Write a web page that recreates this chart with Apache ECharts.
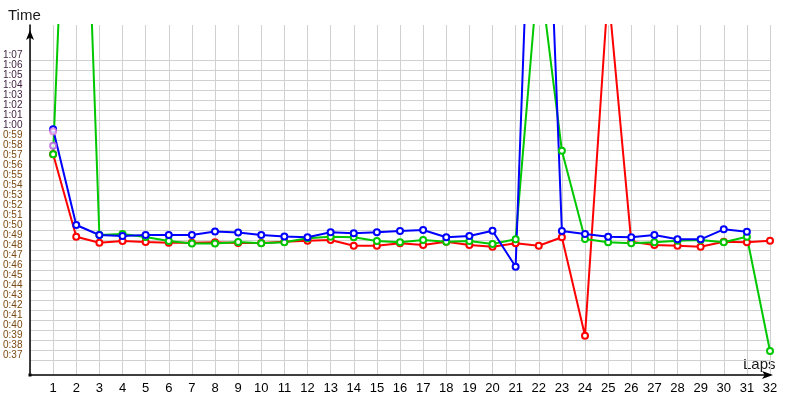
<!DOCTYPE html>
<html>
<head>
<meta charset="utf-8">
<script src="https://cdn.jsdelivr.net/npm/echarts@6/dist/echarts.min.js"></script>
<style>html,body{margin:0;padding:0;background:#fff}#c{width:800px;height:400px}</style>
</head>
<body>
<div id="c"></div>
<script>
// Lap numbers
const laps = [1,2,3,4,5,6,7,8,9,10,11,12,13,14,15,16,17,18,19,20,21,22,23,24,25,26,27,28,29,30,31,32];
// Lap times in seconds
const redTimes = [57.57,49.33,48.73,48.9,48.8,48.73,48.73,48.77,48.7,48.7,48.83,48.93,49.0,48.43,48.43,48.67,48.5,48.83,48.5,48.33,48.67,48.43,49.27,39.43,74.0,48.83,48.5,48.43,48.33,48.83,48.77,48.93];
const greenTimes = [57.57,115.0,49.5,49.6,49.3,48.9,48.65,48.65,48.8,48.67,48.77,49.17,49.33,49.27,48.9,48.77,49.0,48.83,48.9,48.6,49.07,76.5,57.93,49.1,48.77,48.67,48.77,48.93,49.0,48.77,49.33,37.9];
const blueTimes = [60.07,50.5,49.5,49.4,49.5,49.5,49.5,49.85,49.75,49.5,49.35,49.27,49.77,49.67,49.77,49.9,50.0,49.27,49.4,49.93,46.33,110.0,49.9,49.6,49.33,49.27,49.5,49.07,49.07,50.07,49.83];
// extra single lap-1 marks
const extraPinkLap1 = [[1, 59.85]];
const extraVioletLap1 = [[1, 58.43]];
// Y tick range (seconds)
const yTickMin = 37, yTickMax = 67;

function pair(xs, ys){ return ys.map((v,i)=>[xs[i], v]); }
function fmt(v){ const m = Math.floor(v/60), s = Math.round(v - m*60); return m + ':' + (s<10?'0':'') + s; }

const chart = echarts.init(document.getElementById('c'), null, {renderer:'canvas'});
const lineSeries = (name, data, color) => ({
  name, type:'line', xAxisIndex:0, yAxisIndex:0, data, color,
  symbol:'emptyCircle', symbolSize:6, showAllSymbol:true,
  lineStyle:{width:2, color}, itemStyle:{color, borderColor:color, borderWidth:1.2},
  animation:false, clip:true, z:3
});
chart.setOption({
  animation:false,
  backgroundColor:'#fff',
  grid:[
    {left:30, right:30, top:25, bottom:25},
    {left:30, right:30, top:60, height:300}
  ],
  xAxis:[
    {type:'value', gridIndex:0, min:0, max:32, interval:1,
     axisLine:{show:true, lineStyle:{color:'#000', width:1.5}, symbol:['none','arrow'], symbolSize:[6,11], symbolOffset:[0,3]},
     axisTick:{show:false},
     axisLabel:{margin:7, color:'#000', fontSize:13, fontFamily:'Liberation Sans', formatter:v=> v===0?'':String(v)},
     splitLine:{show:true, lineStyle:{color:'#d0d0d0', width:1}}
    },
    {type:'value', gridIndex:1, min:0, max:32, show:false}
  ],
  yAxis:[
    {type:'value', gridIndex:0, min:35.5, max:70.5,
     axisLine:{show:true, lineStyle:{color:'#000', width:1.5}, symbol:['none','arrow'], symbolSize:[6,10], symbolOffset:[0,-5]},
     axisTick:{show:false}, axisLabel:{show:false}, splitLine:{show:false}, z:5},
    {type:'value', gridIndex:1, min:yTickMin, max:yTickMax, interval:1,
     axisLine:{show:false}, axisTick:{show:false},
     axisLabel:{margin:8, fontSize:10, fontFamily:'Liberation Sans', verticalAlign:'bottom',
       formatter:v=> fmt(v),
       color:v=> (v>=60 ? '#3c1e3c' : '#7a4a14')},
     splitLine:{show:true, lineStyle:{color:'#d0d0d0', width:1}}}
  ],
  graphic:[
    {type:'text', left:8, top:8, style:{text:'Time', font:'15px "Liberation Sans"', fill:'#1a1a1a'}},
    {type:'text', left:743, top:357, style:{text:'Laps', font:'15px "Liberation Sans"', fill:'#1a1a1a'}},
    {type:'rect', left:28.5, top:373.5, shape:{width:3, height:3}, style:{fill:'#000'}}
  ],
  series:[
    lineSeries('Red', pair(laps, redTimes), '#ff0000'),
    lineSeries('Green', pair(laps, greenTimes), '#00c800'),
    {type:'scatter', xAxisIndex:0, yAxisIndex:0, data:extraVioletLap1, symbol:'emptyCircle', symbolSize:6,
     itemStyle:{color:'#b45ae0', borderColor:'#b45ae0', borderWidth:1.2}, z:3},
    {type:'scatter', xAxisIndex:0, yAxisIndex:0, data:extraPinkLap1, symbol:'emptyCircle', symbolSize:6,
     itemStyle:{color:'#e080d8', borderColor:'#e080d8', borderWidth:1.2}, z:4},
    lineSeries('Blue', pair(laps, blueTimes), '#0000ff')
  ]
});
</script>
</body>
</html>
